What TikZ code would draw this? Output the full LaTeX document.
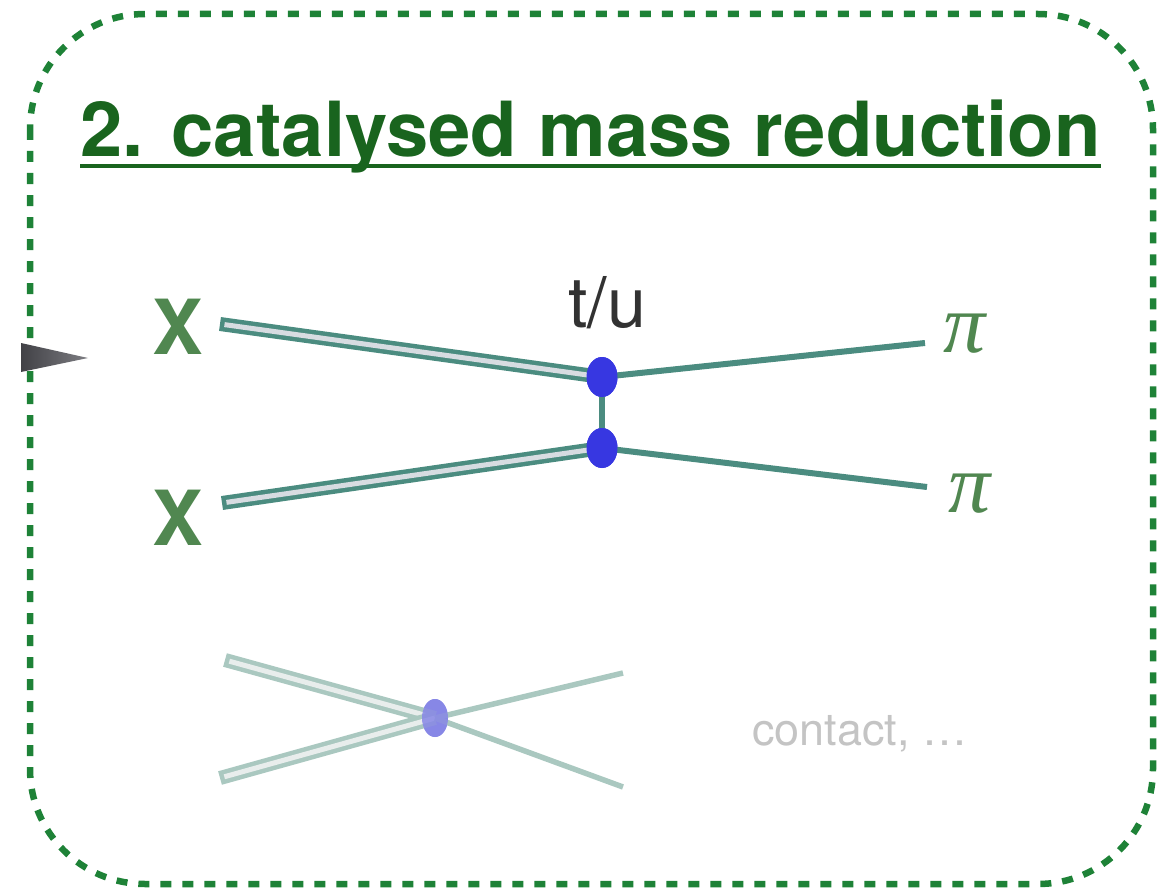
\documentclass[tikz,border=0pt]{standalone}
\usepackage{fontspec}
\setmainfont{TeX Gyre Heros}
\setsansfont{TeX Gyre Heros}
\newfontfamily\pifont{Liberation Serif}
\usetikzlibrary{shapes.geometric}
\definecolor{bordergreen}{RGB}{30,130,55}
\definecolor{titlegreen}{RGB}{25,100,30}
\definecolor{xgreen}{RGB}{80,135,80}
\definecolor{tealline}{RGB}{75,140,128}
\definecolor{innerline}{RGB}{215,220,225}
\definecolor{blobblue}{RGB}{55,55,225}
\definecolor{fadeteal}{RGB}{170,200,192}
\definecolor{fadeinner}{RGB}{232,237,236}
\definecolor{fadeblob}{RGB}{135,135,230}
\definecolor{tugray}{RGB}{50,50,50}
\definecolor{contactgray}{RGB}{196,196,196}
\tikzset{
  heavy/.style={draw=tealline, line width=14pt,
    postaction={draw=innerline, line width=5pt, shorten <=4.5pt}},
  light/.style={draw=tealline, line width=6pt},
  fadeheavy/.style={draw=fadeteal, line width=14pt,
    postaction={draw=fadeinner, line width=5pt, shorten <=4.5pt}},
  fadelight/.style={draw=fadeteal, line width=5.5pt},
  blob/.style={ellipse, fill=blobblue, minimum width=31pt, minimum height=40pt, inner sep=0pt},
  fblob/.style={ellipse, fill=fadeblob, minimum width=26pt, minimum height=38pt, inner sep=0pt},
  xlabel/.style={text=xgreen, font=\fontsize{76}{76}\selectfont\bfseries, inner sep=0pt},
  pilabel/.style={text=xgreen, font=\fontsize{84}{84}\selectfont\pifont\itshape, inner sep=0pt},
}
\begin{document}
\begin{tikzpicture}[x=1pt,y=-1pt]
\useasboundingbox (0,0) rectangle (1173,888);
% border
\draw[bordergreen, line width=6.5pt, dash pattern=on 11pt off 11pt, rounded corners=115pt]
  (30,14) rectangle (1153,884);
% incoming arrow
\shade[left color={rgb,255:red,65;green,65;blue,70}, right color={rgb,255:red,125;green,125;blue,130}]
  (21,343) -- (88,358) -- (21,372) -- cycle;
% title
\node[anchor=base west, inner sep=0pt, text=titlegreen,
  font=\fontsize{76}{76}\selectfont\bfseries] (title) at (80,157) {2. catalysed mass reduction};
\draw[titlegreen, line width=4pt] ([yshift=-9pt]title.base west) -- ([yshift=-9pt]title.base east);
% main diagram
\node[xlabel] (x1) at (178,327) {X};
\node[xlabel] (x2) at (178,518) {X};
\node[pilabel, anchor=base] (p1) at (965,352) {π};
\node[pilabel, anchor=base] (p2) at (970,512) {π};
\node[anchor=base, inner sep=0pt, text=tugray, font=\fontsize{70}{70}\selectfont] (tu) at (607,327) {t/u};
\coordinate (a1) at (220,324);
\coordinate (a2) at (222,503);
\coordinate (b1) at (925,343);
\coordinate (b2) at (927,487);
\node[blob] (v1) at (602,377) {};
\node[blob] (v2) at (602,448) {};
\draw[heavy] (a1) -- (v1.center);
\draw[heavy] (a2) -- (v2.center);
\draw[light] (v1.center) -- (b1);
\draw[light] (v2.center) -- (b2);
\draw[light] (v1.center) -- (v2.center);
\node[blob] at (v1) {};
\node[blob] at (v2) {};
% contact diagram
\coordinate (c1) at (225,660);
\coordinate (c2) at (220,778);
\coordinate (d1) at (623,673);
\coordinate (d2) at (623,787);
\node[fblob] (w) at (435,718) {};
\draw[fadeheavy] (c1) -- (w.center);
\draw[fadeheavy] (c2) -- (w.center);
\draw[fadelight] (w.center) -- (d1);
\draw[fadelight] (w.center) -- (d2);
\node[fblob, fill opacity=0.85] at (w) {};
\node[anchor=base west, inner sep=0pt, text=contactgray, font=\fontsize{45}{45}\selectfont] (contact) at (752,745) {contact, …};
\end{tikzpicture}
\end{document}
